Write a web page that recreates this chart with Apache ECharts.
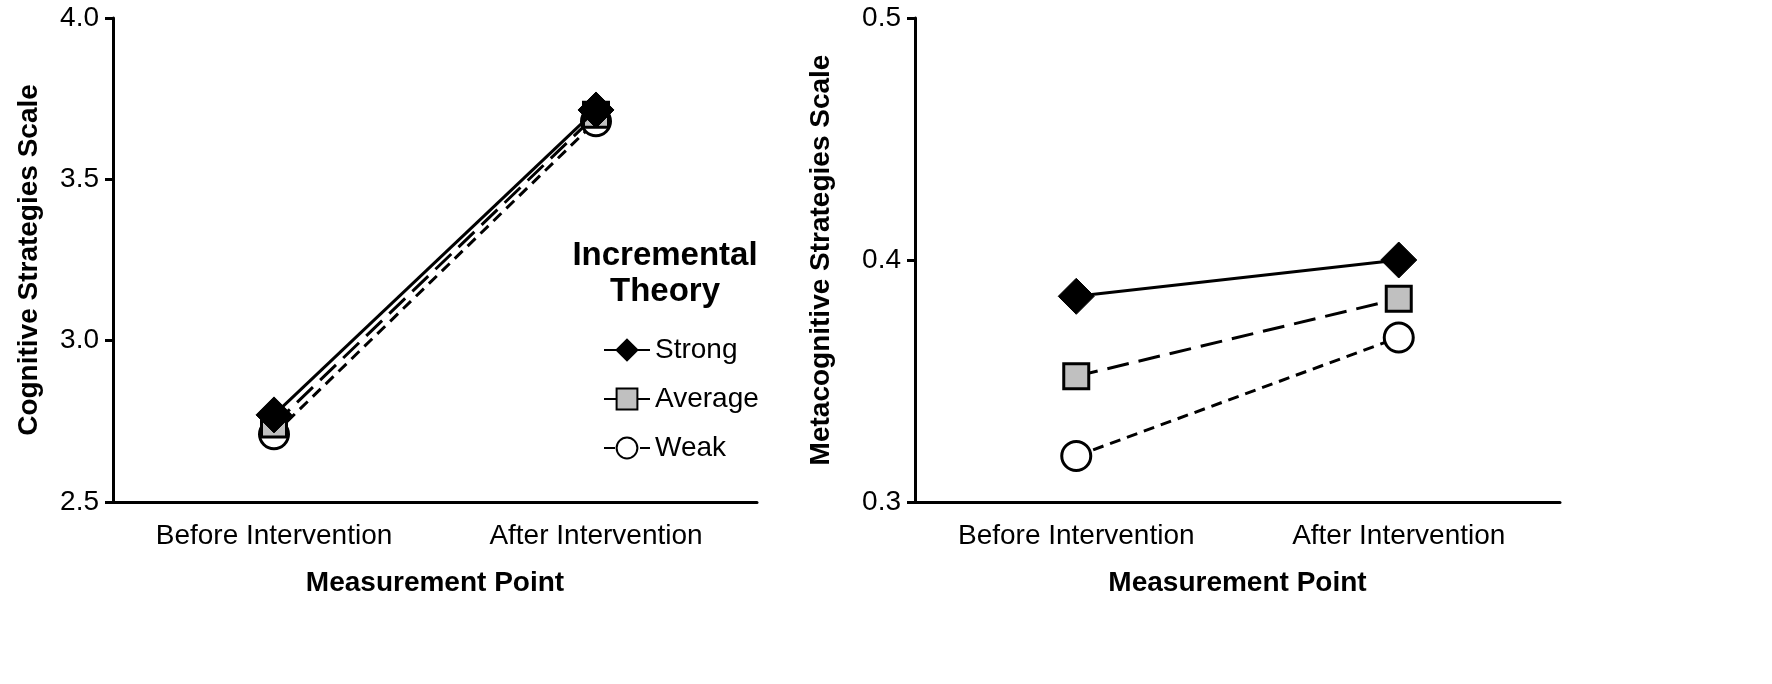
<!DOCTYPE html>
<html><head><meta charset="utf-8">
<script src="https://cdn.jsdelivr.net/npm/echarts@6/dist/echarts.min.js"></script>
<style>html,body{margin:0;padding:0;background:#fff}#c{width:1772px;height:684px}</style>
</head><body><div id="c"></div>
<script>
const categories = ['Before Intervention', 'After Intervention'];
const seriesNames = ['Strong', 'Average', 'Weak'];
const cognitiveStrong = [2.77, 3.715];
const cognitiveAverage = [2.74, 3.70];
const cognitiveWeak = [2.71, 3.68];
const metaStrong = [0.385, 0.400];
const metaAverage = [0.352, 0.384];
const metaWeak = [0.319, 0.368];

const FONT = 'Liberation Sans, Arial, sans-serif';
const styles = [
  {symbol: 'diamond', symbolSize: [36, 36], itemStyle: {color: '#000', borderColor: '#000', borderWidth: 1}, lineStyle: {type: 'solid'}},
  {symbol: 'rect', symbolSize: 25, itemStyle: {color: '#c0c0c0', borderColor: '#000', borderWidth: 3}, lineStyle: {type: [22, 10]}},
  {symbol: 'circle', symbolSize: 29, itemStyle: {color: '#fff', borderColor: '#000', borderWidth: 3}, lineStyle: {type: [11, 7]}}
];
function mk(name, data, idx, s) {
  return {
    name: name, type: 'line', xAxisIndex: idx, yAxisIndex: idx, data: data,
    symbol: s.symbol, symbolSize: s.symbolSize, itemStyle: s.itemStyle,
    lineStyle: Object.assign({color: '#000', width: 3}, s.lineStyle),
    z: 3 - seriesNames.indexOf(name), animation: false
  };
}
const axisText = {color: '#000', fontFamily: FONT, fontSize: 28};
const nameText = {color: '#000', fontFamily: FONT, fontSize: 28, fontWeight: 'bold'};
function xAx(i) {
  return {type: 'category', gridIndex: i, data: categories, boundaryGap: true,
    axisLine: {lineStyle: {color: '#000', width: 3}}, axisTick: {show: false},
    axisLabel: Object.assign({margin: 20}, axisText),
    name: 'Measurement Point', nameLocation: 'middle', nameGap: 67, nameTextStyle: nameText, splitLine: {show: false}};
}
function yAx(i, min, max, interval, name, gap) {
  return {type: 'value', gridIndex: i, min: min, max: max, interval: interval,
    axisLine: {show: true, lineStyle: {color: '#000', width: 3}},
    axisTick: {show: true, inside: false, length: 8, lineStyle: {color: '#000', width: 3}},
    axisLabel: Object.assign({margin: 14, formatter: v => v.toFixed(1)}, axisText),
    splitLine: {show: false},
    name: name, nameLocation: 'middle', nameGap: gap, nameTextStyle: nameText};
}
const chart = echarts.init(document.getElementById('c'));
chart.setOption({
  backgroundColor: '#fff',
  animation: false,
  grid: [
    {left: 113, right: 1015, top: 18, bottom: 182},
    {left: 915, right: 212, top: 18, bottom: 182}
  ],
  xAxis: [xAx(0), xAx(1)],
  yAxis: [yAx(0, 2.5, 4.0, 0.5, 'Cognitive Strategies Scale', 70), yAx(1, 0.3, 0.5, 0.1, 'Metacognitive Strategies Scale', 80)],
  legend: {
    data: seriesNames, orient: 'vertical', left: 598, top: 330, itemGap: 19,
    itemWidth: 46, itemHeight: 26, textStyle: Object.assign({}, axisText, {lineHeight: 30, padding: [0, 0, 0, 0]}),
    selectedMode: false
  },
  graphic: [{
    type: 'text', left: 568, top: 238,
    style: {text: 'Incremental\nTheory', fill: '#000', font: 'bold 33px ' + FONT, textAlign: 'center', lineHeight: 36, width: 194}
  }],
  series: [
    mk('Strong', cognitiveStrong, 0, styles[0]),
    mk('Average', cognitiveAverage, 0, styles[1]),
    mk('Weak', cognitiveWeak, 0, styles[2]),
    mk('Strong', metaStrong, 1, styles[0]),
    mk('Average', metaAverage, 1, styles[1]),
    mk('Weak', metaWeak, 1, styles[2])
  ]
});
</script></body></html>
